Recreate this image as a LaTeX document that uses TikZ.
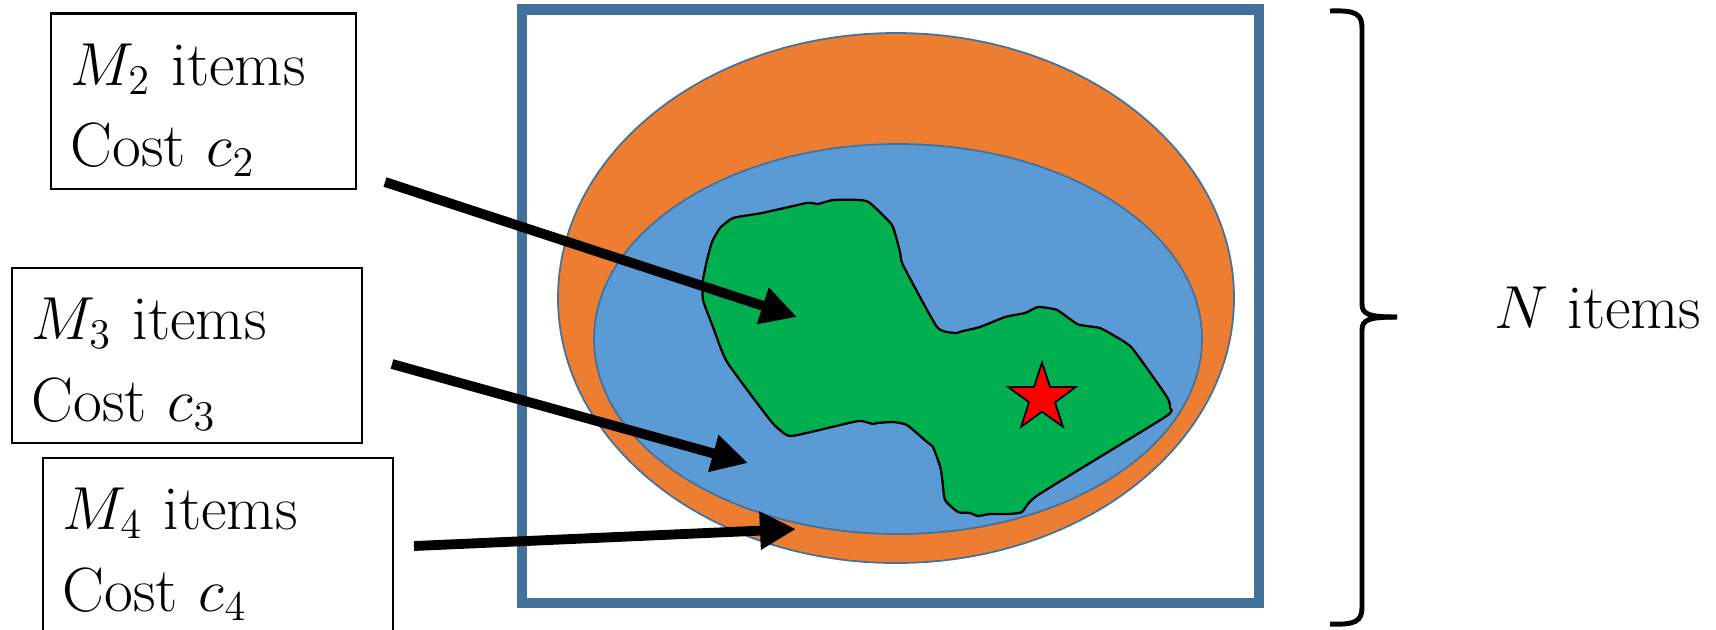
\documentclass[tikz,border=0pt]{standalone}
\usepackage{tikz}
\usetikzlibrary{shapes.geometric, arrows.meta, positioning}
\usepackage{xcolor}
\definecolor{frameBlue}{RGB}{65,113,156}
\definecolor{outerOrange}{RGB}{237,125,49}
\definecolor{innerBlue}{RGB}{91,155,213}
\definecolor{regionGreen}{RGB}{0,176,80}

\begin{document}
\begin{tikzpicture}[
    x=0.01cm, y=-0.01cm,
    itembox/.style={rectangle, draw, line width=0.6pt, align=left, inner xsep=0.2cm, inner ysep=0pt, minimum height=1.75cm, font=\fontsize{17.8}{23.3}\selectfont},
    pointer/.style={line width=2.8pt, -{Triangle[length=0.36cm, width=0.36cm]}},
    bracepen/.style={line width=1.4pt},
    bigtext/.style={font=\fontsize{17.8}{23.3}\selectfont}
]
\useasboundingbox (0,0) rectangle (1716,629);

% search space
\draw[line width=3.1pt, draw=frameBlue] (522,9.5) rectangle (1259,603);
\draw[line width=0.5pt, draw=frameBlue, fill=outerOrange] (896,298) ellipse [x radius=338, y radius=265];
\draw[line width=0.5pt, draw=frameBlue, fill=innerBlue] (898,339) ellipse [x radius=304, y radius=195];
\draw[line width=0.65pt, fill=regionGreen] plot[smooth cycle, tension=0.3] coordinates {
    (733,218) (762,213) (807,203) (818,204) (833,200) (860,200) (870,203) (892,225)
    (900,252) (903,265) (937,327) (955,333) (963,331) (980,327) (1005,317) (1025,313)
    (1038,307) (1057,310) (1077,324) (1087,326) (1100,328) (1113,335) (1132,348)
    (1167,397) (1170,408) (1165,417) (1038,495) (1022,512) (1007,514) (990,514)
    (978,516) (970,513) (958,512) (945,500) (942,477) (940,466) (933,447) (927,442)
    (907,425) (893,422) (877,423) (873,424) (862,421) (853,422) (792,436) (780,430)
    (770,420) (727,362) (713,327) (703,300) (703,280) (707,260) (712,242) (720,228)};
\node[star, star points=5, star point ratio=2.6, minimum size=0.71cm, inner sep=0pt, draw, fill=red, line width=0.5pt] (goal) at (1042,398) {};

% item boxes
\node[itembox, text width=2.65cm] (m2) at (203.5,101) {\rule{0pt}{0.59cm}$M_2$ items\\Cost $c_2$};
\node[itembox, text width=3.1cm] (m3) at (187,355.5) {\rule{0pt}{0.59cm}$M_3$ items\\Cost $c_3$};
\node[itembox, text width=3.1cm] (m4) at (218,545.5) {\rule{0pt}{0.59cm}$M_4$ items\\Cost $c_4$};

\coordinate (s2) at (385,182);
\coordinate (t2) at (797,317);
\coordinate (s3) at (392,364);
\coordinate (t3) at (748,463);
\coordinate (s4) at (414,546);
\coordinate (t4) at (796,529);
\draw[pointer] (s2) -- (t2);
\draw[pointer] (s3) -- (t3);
\draw[pointer] (s4) -- (t4);

% brace
\coordinate (tip) at (1397,317);
\draw[bracepen] (1330,11) .. controls (1356,10) and (1362,14) .. (1362,28) -- (1362,304) .. controls (1362,314) and (1368,317) .. (tip);
\draw[bracepen] (1330,624) .. controls (1356,625) and (1362,621) .. (1362,607) -- (1362,330) .. controls (1362,320) and (1368,317) .. (tip);
\node[bigtext, right=0.85cm of tip, yshift=0.09cm] (total) {$N$ items};
\end{tikzpicture}
\end{document}
